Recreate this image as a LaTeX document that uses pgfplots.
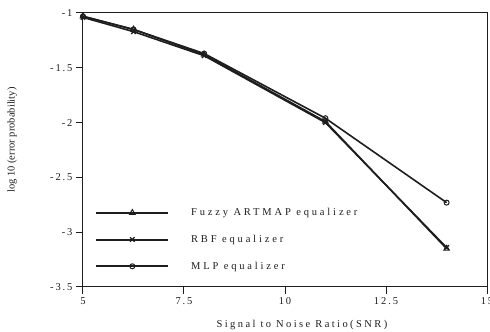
\documentclass[border=0pt]{standalone}
\usepackage{fontspec}
\setmainfont{Liberation Serif}
\newfontfamily\spaced[LetterSpace=18]{Liberation Serif}
\newfontfamily\wide[LetterSpace=23]{Liberation Serif}
\newfontfamily\legfont[LetterSpace=27]{Liberation Serif}
\usepackage{pgfplots}
\pgfplotsset{compat=1.18}
\definecolor{ink}{HTML}{1E1E1E}
\begin{document}
\begin{tikzpicture}
\path[use as bounding box] (-83pt,-45pt) rectangle (407pt,287pt);
\begin{axis}[
  at={(0pt,0pt)}, anchor=south west,
  scale only axis, width=404pt, height=274pt,
  xmin=5, xmax=15, ymin=-3.5, ymax=-1,
  xtick={5,7.5,10,12.5,15}, xticklabels={5,7.5,10,12.5,15},
  ytick={-3.5,-3,-2.5,-2,-1.5,-1}, yticklabels={-3.5,-3,-2.5,-2,-1.5,-1},
  xtick pos=bottom, ytick pos=left,
  tick align=outside,
  major tick length=7pt,
  axis line style={ink, line width=1pt},
  every tick/.style={ink, line width=1pt},
  tick label style={font=\fontsize{10.5}{12}\selectfont\spaced, text=ink},
  xlabel={Signal to Noise Ratio(SNR)},
  xlabel style={font=\fontsize{10.5}{12}\selectfont\wide, text=ink, at={(axis description cs:0.542,0)}, anchor=center, yshift=-38pt},
  ylabel={log 10 (error probability)},
  ylabel style={font=\fontsize{10.5}{12}\selectfont, text=ink, at={(axis description cs:0,0.536)}, anchor=center, yshift=71pt},
  legend cell align=left,
  legend style={draw=none, fill=none, at={(axis description cs:0.030,0.2915)}, anchor=north west,
    font=\fontsize{10.5}{12}\selectfont\legfont, text=ink, inner sep=0pt, row sep=16pt,
    nodes={inner sep=1pt}},
  legend image code/.code={\draw[mark repeat=2,mark phase=2,#1, line width=2pt] plot coordinates {(0pt,0pt)(36pt,0pt)(72pt,0pt)}; \path (93pt,0pt);},
]
\addplot[ink, line width=1.6pt, mark=triangle, mark size=3.2pt, mark options={solid, line width=1pt, fill=white}]
  coordinates {(5,-1.03) (6.25,-1.15) (8,-1.38) (11,-1.99) (14,-3.15)};
\addlegendentry{Fuzzy ARTMAP equalizer}
\addplot[ink, line width=1.6pt, mark=x, mark size=3.2pt, mark options={solid, line width=1.3pt}]
  coordinates {(5,-1.04) (6.25,-1.17) (8,-1.39) (11,-2.00) (14,-3.14)};
\addlegendentry{RBF equalizer}
\addplot[ink, line width=1.6pt, mark=o, mark size=2.5pt, mark options={solid, line width=1pt, fill=white}]
  coordinates {(5,-1.03) (6.25,-1.15) (8,-1.37) (11,-1.96) (14,-2.73)};
\addlegendentry{MLP equalizer}
\end{axis}
\end{tikzpicture}
\end{document}
